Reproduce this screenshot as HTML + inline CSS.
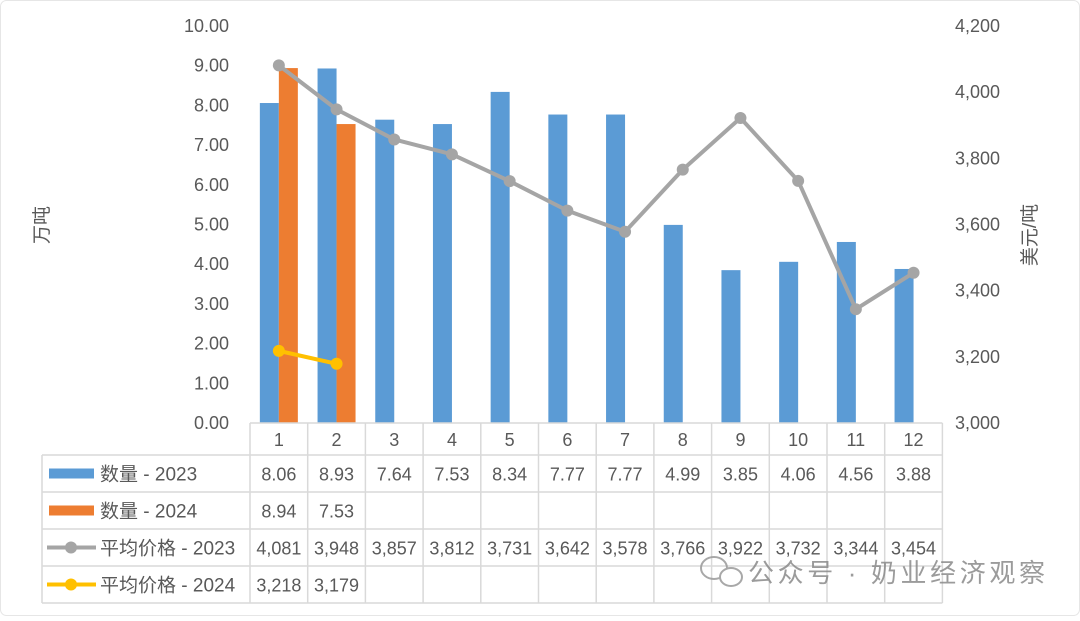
<!DOCTYPE html>
<html><head><meta charset="utf-8">
<style>
body{margin:0;background:#fff;}
svg text{font-family:"Liberation Sans","Noto Sans CJK SC",sans-serif;fill:#595959;}
</style></head>
<body>
<svg id="c" width="1080" height="616" xmlns="http://www.w3.org/2000/svg">
<rect x="0.5" y="0.5" width="1079" height="615" rx="6" fill="#fff" stroke="#e6e6e6"/>
<g id="g"></g>
<text x="48" y="225" font-size="19" text-anchor="middle" transform="rotate(-90 48 225)">万吨</text>
<text x="1036" y="235" font-size="19" text-anchor="middle" transform="rotate(-90 1036 235)">美元/吨</text>
<g opacity="0.85">
<ellipse cx="714" cy="568" rx="13" ry="11" fill="none" stroke="#9a9a9a" stroke-width="2"/>
<ellipse cx="731" cy="577" rx="11" ry="9" fill="#fff" stroke="#9a9a9a" stroke-width="2"/>
<text x="748" y="582" font-size="26" textLength="297" lengthAdjust="spacing" style="fill:#8a8a8a">公众号 · 奶业经济观察</text>
</g>
</svg>
<script>
const categories=["1","2","3","4","5","6","7","8","9","10","11","12"];
const qty2023=[8.06,8.93,7.64,7.53,8.34,7.77,7.77,4.99,3.85,4.06,4.56,3.88];
const qty2024=[8.94,7.53];
const price2023=[4081,3948,3857,3812,3731,3642,3578,3766,3922,3732,3344,3454];
const price2024=[3218,3179];
const leftTicks=[0,1,2,3,4,5,6,7,8,9,10];
const rightTicks=[3000,3200,3400,3600,3800,4000,4200];

const NS="http://www.w3.org/2000/svg";
const g=document.getElementById('g');
function el(t,a,txt){const e=document.createElementNS(NS,t);for(const k in a)e.setAttribute(k,a[k]);if(txt!==undefined)e.textContent=txt;g.appendChild(e);return e;}
const X0=250,CW=57.7,TOP=26,BOT=423;
const cx=i=>X0+CW*(i+0.5);
const yL=v=>BOT-(v/10)*(BOT-TOP);
const yR=v=>BOT-((v-3000)/1200)*(BOT-TOP);
const fmt=v=>v.toLocaleString('en-US');

leftTicks.forEach(v=>{const t=el('text',{x:229,y:yL(v)+6,'font-size':18,'text-anchor':'end'},v.toFixed(2));

});
rightTicks.forEach(v=>{const t=el('text',{x:955,y:yR(v)+6,'font-size':18},fmt(v));

});

qty2023.forEach((v,i)=>{const r=el('rect',{x:cx(i)-19,y:yL(v),width:19,height:BOT-yL(v),fill:'#5b9bd5'});

});
qty2024.forEach((v,i)=>{const r=el('rect',{x:cx(i),y:yL(v),width:19,height:BOT-yL(v),fill:'#ed7d31'});

});

function line(data,color,name){
 const p=el('polyline',{points:data.map((v,i)=>cx(i)+','+yR(v)).join(' '),fill:'none',stroke:color,'stroke-width':4,'stroke-linejoin':'round'});
 
 
 data.forEach((v,i)=>{const c=el('circle',{cx:cx(i),cy:yR(v),r:6,fill:color});
 
 });
}
line(price2023,'#a5a5a5','price-2023');
line(price2024,'#ffc000','price-2024');

const rows=[455,492,529,566,603];
const gc='#d9d9d9';
el('line',{x1:X0,y1:BOT,x2:X0+12*CW,y2:BOT,stroke:gc,'stroke-width':1.5});
rows.forEach(y=>el('line',{x1:42,y1:y,x2:X0+12*CW,y2:y,stroke:gc,'stroke-width':1.5}));
el('line',{x1:42,y1:455,x2:42,y2:603,stroke:gc,'stroke-width':1.5});
for(let i=0;i<=12;i++)el('line',{x1:X0+i*CW,y1:BOT,x2:X0+i*CW,y2:603,stroke:gc,'stroke-width':1.5});
categories.forEach((c,i)=>{const t=el('text',{x:cx(i),y:446,'font-size':18,'text-anchor':'middle'},c);

});
const series=[[qty2023,v=>v.toFixed(2),'数量 - 2023','#5b9bd5',0],[qty2024,v=>v.toFixed(2),'数量 - 2024','#ed7d31',0],[price2023,fmt,'平均价格 - 2023','#a5a5a5',1],[price2024,fmt,'平均价格 - 2024','#ffc000',1]];
series.forEach((s,r)=>{
 const yc=(rows[r]+rows[r+1])/2;
 if(s[4]===0){const m=el('rect',{x:49,y:yc-5,width:45,height:10,fill:s[3]});
 
 }
 else{el('line',{x1:47,y1:yc,x2:96,y2:yc,stroke:s[3],'stroke-width':4});
 const m=el('circle',{cx:71,cy:yc,r:6,fill:s[3]});
 
 }
 const l=el('text',{x:100,y:yc+7,'font-size':19},s[2]);
 
 
 s[0].forEach((v,i)=>{const t=el('text',{x:cx(i),y:yc+7,'font-size':18,'text-anchor':'middle'},s[1](v));
 
 });
});
</script>
</body></html>
